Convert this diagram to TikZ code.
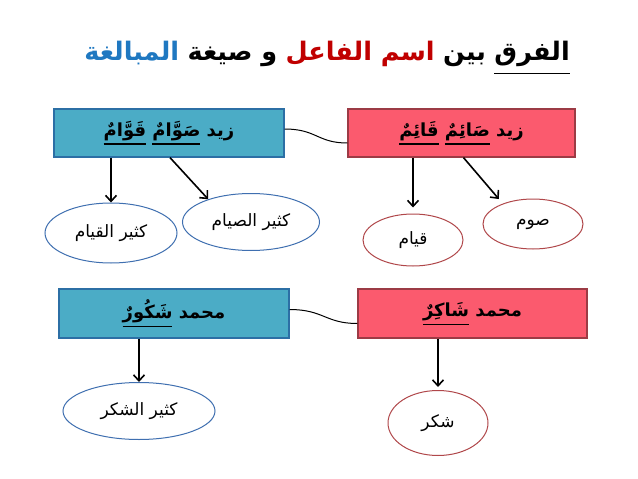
\documentclass[tikz,border=0pt]{standalone}
\usepackage{fontspec}
\usetikzlibrary{arrows.meta,shapes.geometric}
\TeXXeTstate=1
\newfontfamily\arabicfont[Script=Arabic]{DejaVu Sans}
\definecolor{bfill}{HTML}{4BACC6}
\definecolor{bdraw}{HTML}{2C6FA5}
\definecolor{rfill}{HTML}{FB5A6E}
\definecolor{rdraw}{HTML}{9C3B45}
\definecolor{beldraw}{HTML}{3F6FB0}
\definecolor{reldraw}{HTML}{B0474A}
\definecolor{tred}{HTML}{C00000}
\definecolor{tblue}{HTML}{1F78C1}
\newcommand\ulw[2][3pt]{\setbox0\hbox{#2}\vtop{\copy0\kern#1\hrule width\wd0 height 1.2pt}}
\tikzset{
  ttl/.style={inner sep=0pt, anchor=base east, font=\fontsize{25.5}{30}\selectfont\arabicfont\bfseries},
  box/.style={rectangle, line width=1.2pt, minimum height=48pt, inner sep=0pt,
    font=\fontsize{18}{22}\selectfont\arabicfont\bfseries},
  bluebox/.style={box, fill=bfill, draw=bdraw},
  redbox/.style={box, fill=rfill, draw=rdraw},
  oval/.style={ellipse, fill=white, line width=1pt, inner sep=0pt,
    font=\fontsize{17}{20}\selectfont\arabicfont},
  blueoval/.style={oval, draw=beldraw},
  redoval/.style={oval, draw=reldraw},
  arr/.style={line width=1.6pt, -{Straight Barb[length=6pt,width=11pt,line width=1.6pt]}},
  link/.style={line width=1pt}
}
\begin{document}
\begin{tikzpicture}[x=1pt,y=-1pt]
\useasboundingbox (0,0) rectangle (638,479);
% title, right to left
\node[ttl] (t1) at (570,60) {\ulw[7pt]{الفرق}};
\node[ttl, xshift=-8pt] (t2) at (t1.base west) {بين};
\node[ttl, text=tred, xshift=-8pt] (t3) at (t2.base west) {\beginR اسم الفاعل\endR};
\node[ttl, xshift=-8pt] (t4) at (t3.base west) {\beginR و صيغة\endR};
\node[ttl, text=tblue, xshift=-8pt] (t5) at (t4.base west) {المبالغة};
% boxes
\node[bluebox, minimum width=230pt] (b1) at (169,133)
  {\beginR زيد \ulw{صَوَّامٌ} \ulw{قَوَّامٌ}\endR};
\node[redbox, minimum width=227pt] (r1) at (461.5,133)
  {\beginR زيد \ulw{صَائِمٌ} \ulw{قَائِمٌ}\endR};
\node[bluebox, minimum width=230pt, minimum height=49pt] (b2) at (174,313.5)
  {\beginR محمد \ulw{شَكُورٌ}\endR};
\node[redbox, minimum width=229pt, minimum height=49pt] (r2) at (472.5,313.5)
  {\beginR محمد \ulw{شَاكِرٌ}\endR};
% ellipses
\node[blueoval, minimum width=132pt, minimum height=60pt] (e1) at (111,233) {\beginR كثير القيام\endR};
\node[blueoval, minimum width=137pt, minimum height=57pt] (e2) at (251,222) {\beginR كثير الصيام\endR};
\node[redoval, minimum width=100pt, minimum height=52pt] (e3) at (413,240) {قيام};
\node[redoval, minimum width=100pt, minimum height=50pt] (e4) at (533,224) {صوم};
\node[blueoval, minimum width=152pt, minimum height=57pt] (e5) at (139,411) {\beginR كثير الشكر\endR};
\node[redoval, minimum width=100pt, minimum height=65pt] (e6) at (438,423) {شكر};
% links between boxes
\draw[link] ([yshift=4pt]b1.east) .. controls ++(32,0) and ++(-30,0) .. ([yshift=-10pt]r1.west);
\draw[link] ([yshift=4pt]b2.east) .. controls ++(34,0) and ++(-32,0) .. ([yshift=-10pt]r2.west);
% arrows
\draw[arr] (e1.north |- b1.south) -- (e1.north);
\draw[arr] ([xshift=1pt]b1.south) -- (e2.152);
\draw[arr, shorten >=6pt] (e3.north |- r1.south) -- (e3.north);
\draw[arr, shorten >=6pt] ([xshift=2pt]r1.south) -- (e4.146);
\draw[arr] (e5.north |- b2.south) -- (e5.north);
\draw[arr, shorten >=3pt] (e6.north |- r2.south) -- (e6.north);
\end{tikzpicture}
\end{document}
